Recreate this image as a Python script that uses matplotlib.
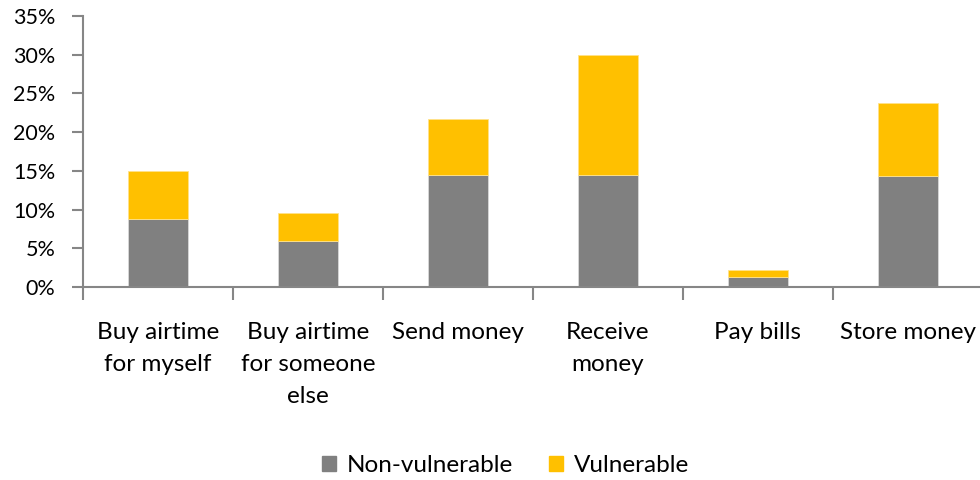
import matplotlib.pyplot as plt
from matplotlib.ticker import PercentFormatter, FixedLocator
from matplotlib.patches import Patch

plt.rcParams['font.family'] = ['Lato', 'DejaVu Sans']

categories = ['Buy airtime\nfor myself', 'Buy airtime\nfor someone\nelse', 'Send money',
              'Receive\nmoney', 'Pay bills', 'Store money']
non_vulnerable = [8.8, 6.0, 14.5, 14.5, 1.3, 14.3]
vulnerable = [6.2, 3.6, 7.2, 15.5, 0.9, 9.5]

gray = '#808080'
gold = '#FFC000'
axis_col = '#868686'

fig = plt.figure(figsize=(9.8, 4.8), dpi=100)
ax = fig.add_axes([0.0847, 0.402, 0.9183, 0.565])

x = range(len(categories))
ax.bar(x, non_vulnerable, width=0.4, color=gray, edgecolor='#d9d9d9', linewidth=0.6,
       label='Non-vulnerable')
ax.bar(x, vulnerable, width=0.4, bottom=non_vulnerable, color=gold, edgecolor='#ffe28a',
       linewidth=0.6, label='Vulnerable')

ax.set_xlim(-0.5, len(categories) - 0.5)
ax.set_ylim(0, 35)
ax.set_yticks(range(0, 36, 5))
ax.yaxis.set_major_formatter(PercentFormatter(decimals=0))

ax.set_xticks(list(x))
ax.set_xticklabels(categories, fontsize=17.5, linespacing=1.65)
ax.xaxis.set_minor_locator(FixedLocator([i - 0.5 for i in range(len(categories) + 1)]))
ax.tick_params(axis='x', which='major', length=0, pad=25)
ax.tick_params(axis='x', which='minor', length=9, width=1.5, color=axis_col)
ax.tick_params(axis='y', length=8, width=1.5, color=axis_col, pad=12, labelsize=15.5)

for side in ['top', 'right']:
    ax.spines[side].set_visible(False)
for side in ['left', 'bottom']:
    ax.spines[side].set_color(axis_col)
    ax.spines[side].set_linewidth(1.5)

handles = [Patch(color=gray, label='Non-vulnerable'), Patch(color=gold, label='Vulnerable')]
fig.legend(handles=handles, loc='center', bbox_to_anchor=(0.516, 0.03), ncol=2,
           frameon=False, fontsize=17.5, handlelength=0.55, handleheight=0.55,
           handletextpad=0.45, columnspacing=1.5)

fig.savefig('out.png', dpi=100)
